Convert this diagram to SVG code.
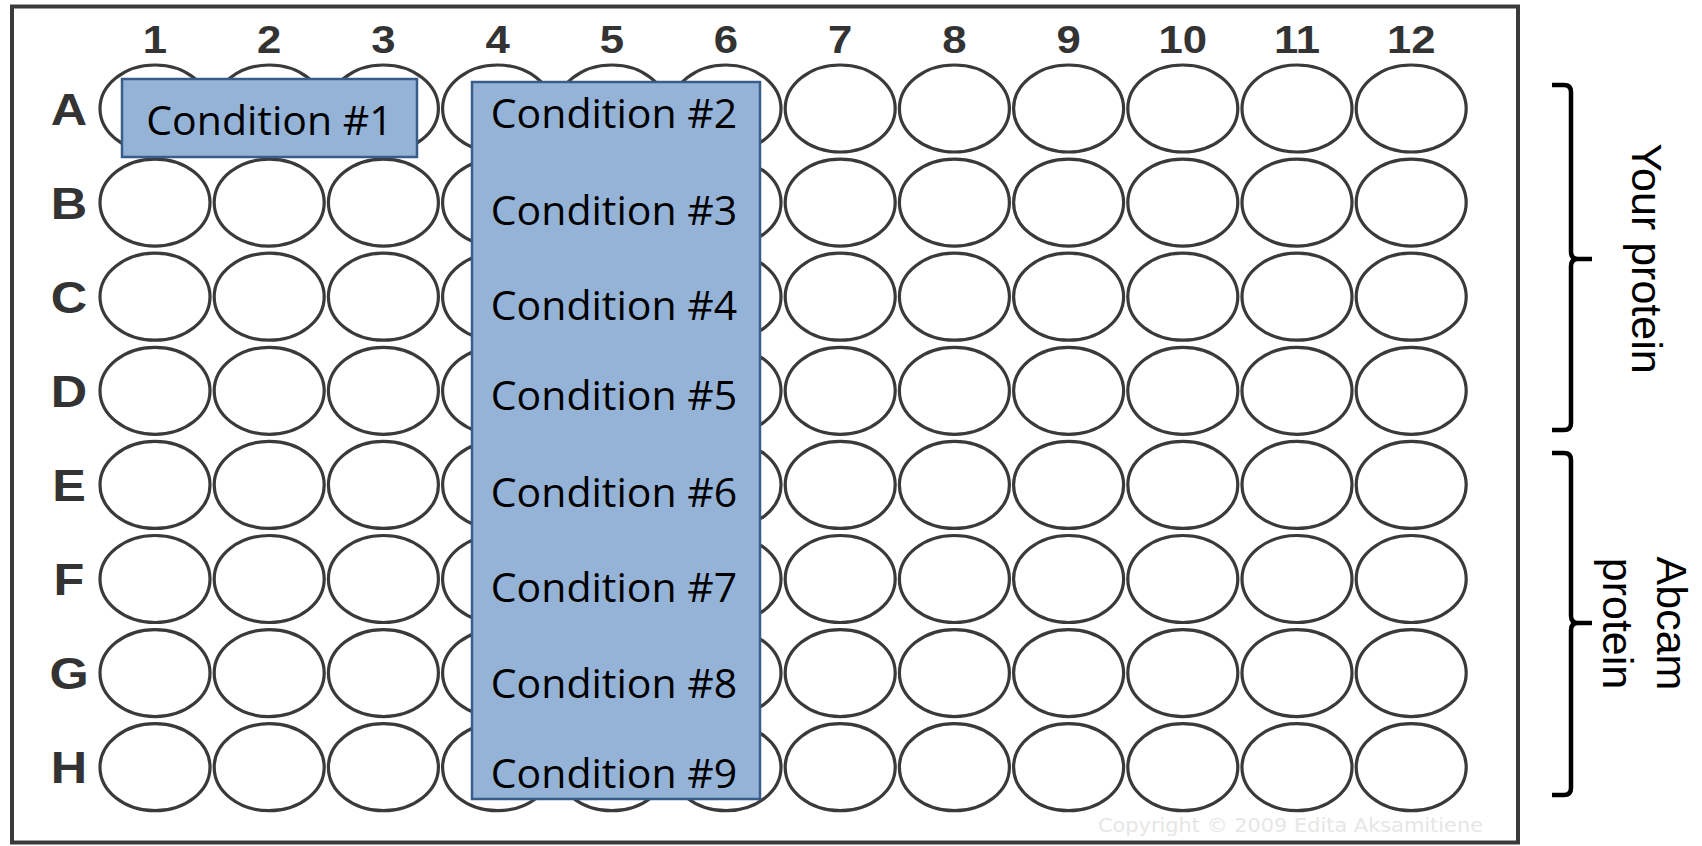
<svg xmlns="http://www.w3.org/2000/svg" xmlns:xlink="http://www.w3.org/1999/xlink" width="1702" height="846" viewBox="0 0 1702 846">
<style>
.well{fill:#fff;stroke:#3a3a3a;stroke-width:3.2}
.lab{font-family:"Liberation Sans",Arial,sans-serif;font-weight:bold;fill:#333;text-anchor:middle}
.col{font-size:38px}
.row{font-size:45px}
.box{fill:#95b3d7;stroke:#385d8a;stroke-width:2.5}
.cond{font-family:"Open Sans","Noto Sans",sans-serif;font-size:41px;fill:#000;text-anchor:middle}
.brk{fill:none;stroke:#000;stroke-width:4.5;stroke-linecap:butt;stroke-linejoin:round}
.side{font-family:"Liberation Sans",Arial,sans-serif;font-size:43px;fill:#000;text-anchor:middle}
</style>
<defs>
<ellipse id="w" cx="0" cy="0" rx="55" ry="43.5" class="well"/>
<g id="wellrow">
<use xlink:href="#w" href="#w" x="155"/>
<use xlink:href="#w" href="#w" x="269.2"/>
<use xlink:href="#w" href="#w" x="383.4"/>
<use xlink:href="#w" href="#w" x="497.6"/>
<use xlink:href="#w" href="#w" x="611.8"/>
<use xlink:href="#w" href="#w" x="726"/>
<use xlink:href="#w" href="#w" x="840.2"/>
<use xlink:href="#w" href="#w" x="954.4"/>
<use xlink:href="#w" href="#w" x="1068.6"/>
<use xlink:href="#w" href="#w" x="1182.8"/>
<use xlink:href="#w" href="#w" x="1297"/>
<use xlink:href="#w" href="#w" x="1411.2"/>
</g>
</defs>
<rect width="1702" height="846" fill="#fff"/>
<g id="plate">
<rect x="12" y="6.5" width="1506" height="836" fill="#fff" stroke="#3a3a3a" stroke-width="4"/>
<g id="wells">
<use xlink:href="#wellrow" href="#wellrow" y="108.5"/>
<use xlink:href="#wellrow" href="#wellrow" y="202.6"/>
<use xlink:href="#wellrow" href="#wellrow" y="296.7"/>
<use xlink:href="#wellrow" href="#wellrow" y="390.8"/>
<use xlink:href="#wellrow" href="#wellrow" y="484.9"/>
<use xlink:href="#wellrow" href="#wellrow" y="579"/>
<use xlink:href="#wellrow" href="#wellrow" y="673.1"/>
<use xlink:href="#wellrow" href="#wellrow" y="767.2"/>
</g>
<g id="col-labels" class="lab col">
<text transform="translate(155,53) scale(1.15,1)">1</text>
<text transform="translate(269.2,53) scale(1.15,1)">2</text>
<text transform="translate(383.4,53) scale(1.15,1)">3</text>
<text transform="translate(497.6,53) scale(1.15,1)">4</text>
<text transform="translate(611.8,53) scale(1.15,1)">5</text>
<text transform="translate(726,53) scale(1.15,1)">6</text>
<text transform="translate(840.2,53) scale(1.15,1)">7</text>
<text transform="translate(954.4,53) scale(1.15,1)">8</text>
<text transform="translate(1068.6,53) scale(1.15,1)">9</text>
<text transform="translate(1182.8,53) scale(1.15,1)">10</text>
<text transform="translate(1297,53) scale(1.15,1)">11</text>
<text transform="translate(1411.2,53) scale(1.15,1)">12</text>
</g>
<g id="row-labels" class="lab row">
<text transform="translate(69,124.5) scale(1.12,1)">A</text>
<text transform="translate(69,218.6) scale(1.12,1)">B</text>
<text transform="translate(69,312.7) scale(1.12,1)">C</text>
<text transform="translate(69,406.8) scale(1.12,1)">D</text>
<text transform="translate(69,500.9) scale(1.12,1)">E</text>
<text transform="translate(69,595) scale(1.12,1)">F</text>
<text transform="translate(69,689.1) scale(1.12,1)">G</text>
<text transform="translate(69,783.2) scale(1.12,1)">H</text>
</g>
<text id="copyright" x="1098" y="832" font-family="'DejaVu Sans',Verdana,sans-serif" font-size="19" fill="#e6e6e6" textLength="385" lengthAdjust="spacingAndGlyphs">Copyright © 2009 Edita Aksamitiene</text>
</g>
<g id="condition-1">
<rect class="box" x="122" y="79" width="295" height="78"/>
<text class="cond" x="269.5" y="135">Condition #1</text>
</g>
<g id="conditions-2-9">
<rect class="box" x="472" y="82" width="288" height="717"/>
<text class="cond" x="614" y="128">Condition #2</text>
<text class="cond" x="614" y="225">Condition #3</text>
<text class="cond" x="614" y="320">Condition #4</text>
<text class="cond" x="614" y="410">Condition #5</text>
<text class="cond" x="614" y="507">Condition #6</text>
<text class="cond" x="614" y="602">Condition #7</text>
<text class="cond" x="614" y="698">Condition #8</text>
<text class="cond" x="614" y="788">Condition #9</text>
</g>
<g id="bracket-your-protein">
<path class="brk" d="M1552,85 L1564,85 Q1571,85 1571,92 L1571,252 Q1571,259 1578,259 L1592,259 M1578,259 Q1571,259 1571,266 L1571,423 Q1571,430 1564,430 L1552,430"/>
<text class="side" transform="translate(1632,258.5) rotate(90)">Your protein</text>
</g>
<g id="bracket-abcam-protein">
<path class="brk" d="M1552,453 L1564,453 Q1571,453 1571,460 L1571,616 Q1571,623 1578,623 L1592,623 M1578,623 Q1571,623 1571,630 L1571,788 Q1571,795 1564,795 L1552,795"/>
<text class="side" transform="translate(1657,623.5) rotate(90)">Abcam</text>
<text class="side" transform="translate(1603,623.5) rotate(90)">protein</text>
</g>
</svg>
